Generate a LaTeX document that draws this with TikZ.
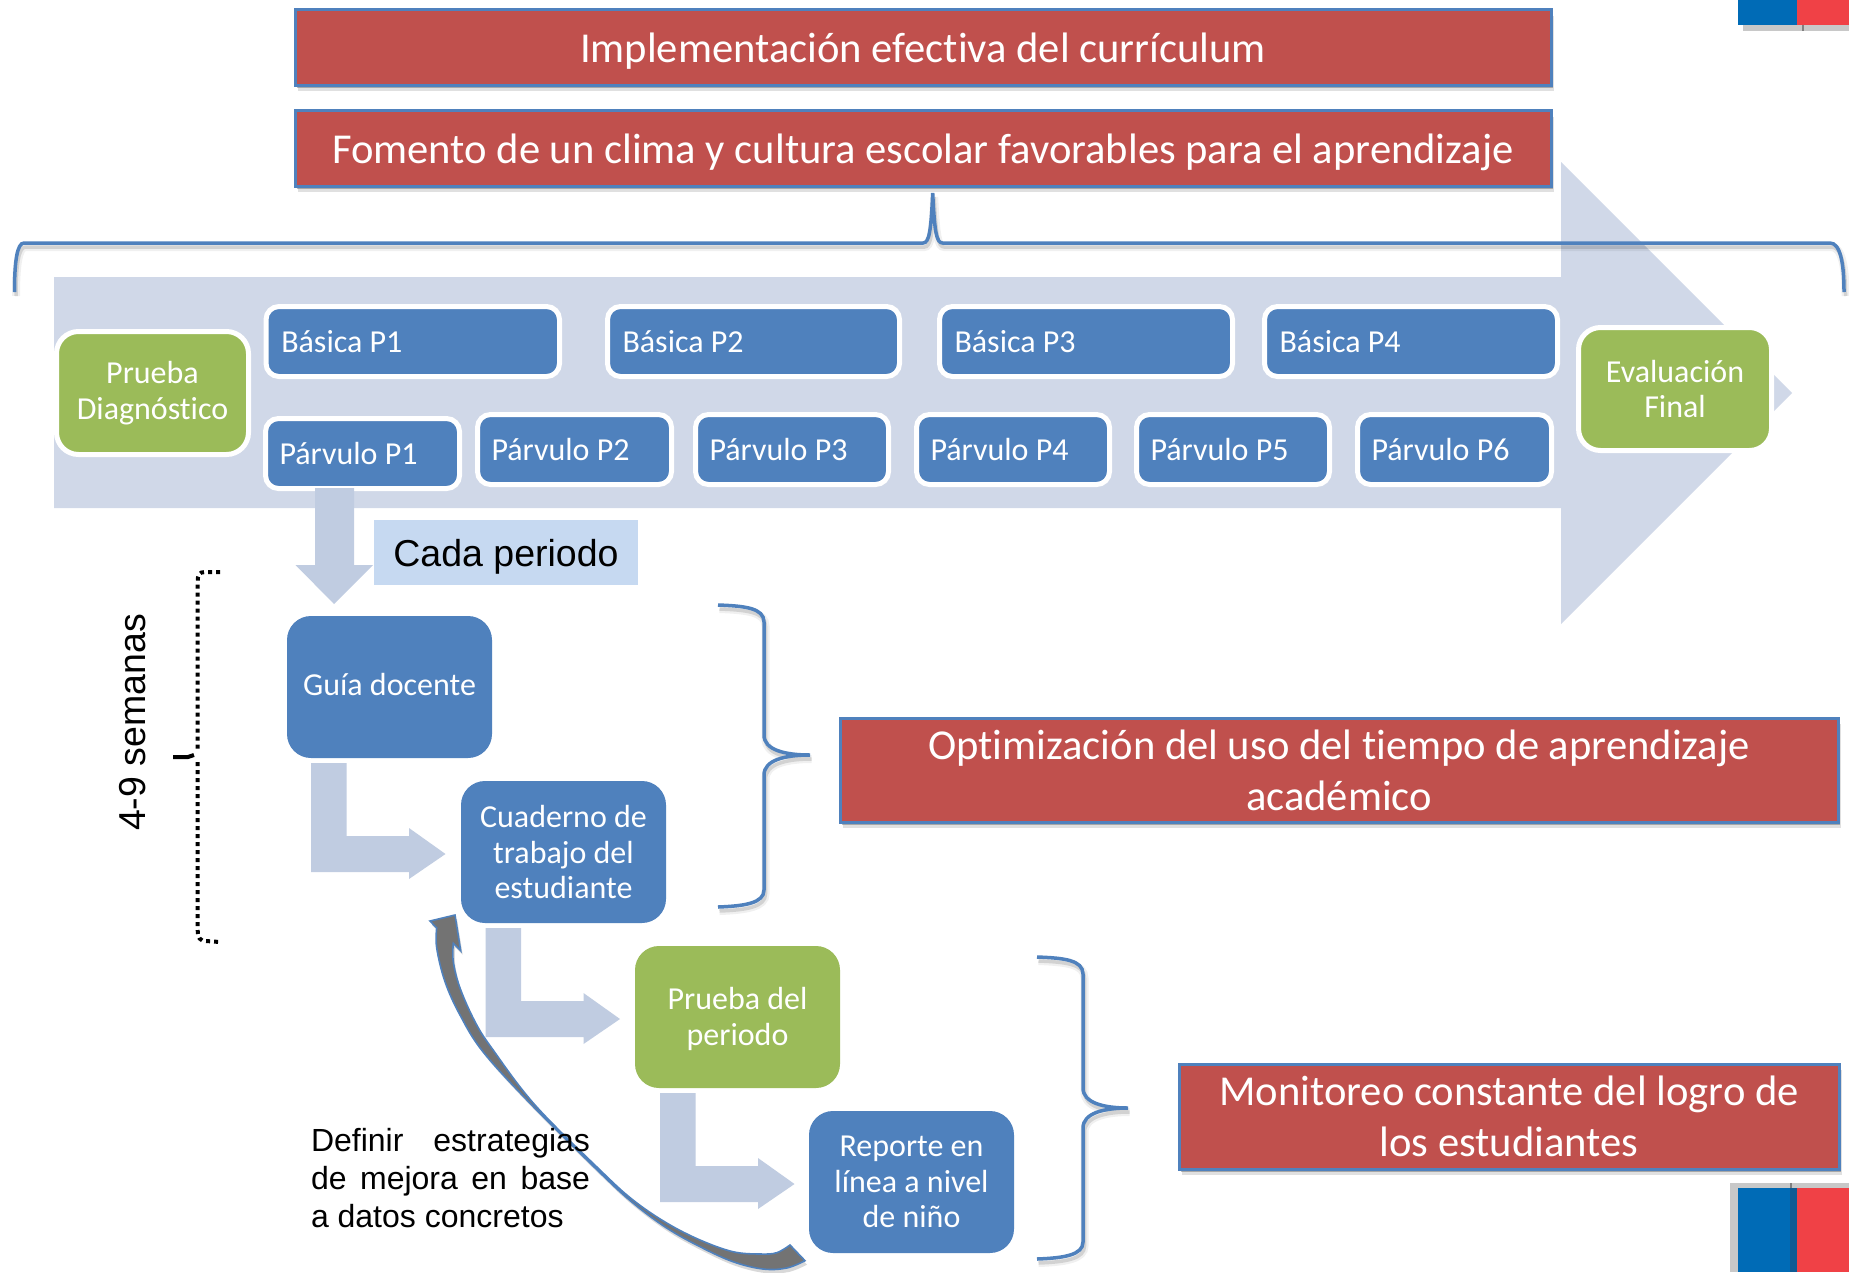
\documentclass[tikz,border=0pt]{standalone}
\usepackage{fontspec}
\setmainfont[Ligatures=NoCommon]{Carlito}
\newfontfamily\arialf{Liberation Sans}
\usetikzlibrary{shadows}
\definecolor{barc}{HTML}{D0D8E8}
\definecolor{bluec}{HTML}{4F81BD}
\definecolor{greenc}{HTML}{9BBB59}
\definecolor{redc}{HTML}{C0504D}
\definecolor{arrc}{HTML}{C0CCE1}
\definecolor{lblc}{HTML}{C6D9F1}
\definecolor{flagb}{HTML}{006BB6}
\definecolor{flagr}{HTML}{F04146}
\definecolor{flagg}{HTML}{C8C8C8}
\definecolor{flagd}{HTML}{0F5B94}
\newcommand{\boxat}[6]{%
  \pgfmathsetmacro{\bw}{#4-#2}\pgfmathsetmacro{\bh}{#5-#3}%
  \pgfmathsetmacro{\bx}{(#2+#4)/2}\pgfmathsetmacro{\by}{(#3+#5)/2}%
  \node[#6,minimum width=\bw pt,minimum height=\bh pt] (#1) at (\bx,\by)}
\newcommand{\lowered}[2]{\raisebox{#1pt}[\height][\depth]{#2}}
\newcommand{\bentarrow}[2]{%
  \fill[arrc,shift={(#1,#2)}] (0,0) -- (35.5,0) -- (35.5,73) -- (98,73) -- (98,65) -- (134.5,91) -- (98,116) -- (98,109) -- (0,109) -- cycle;}
\newcommand{\curvepath}{plot[smooth,tension=.6] coordinates {(453.3,943.3) (453.3,961.7) (460,988) (475,1021.7) (491.7,1048) (535,1105) (600,1170) (633,1200) (666.7,1223) (700,1240) (733,1251.7) (760,1254) (776.7,1252.7) (790,1245)} -- (805,1260.7) -- plot[smooth,tension=.6] coordinates {(805,1260.7) (786.7,1268) (763,1269) (733,1261.7) (700,1246.7) (666.7,1228) (633,1203) (600,1172.7) (531.7,1105) (483,1051.7) (460,1015) (445,981.7) (436.7,948) (436.7,928)} -- (430,921) -- (455,915) -- (460.7,950.7) -- cycle}
\newcommand{\topbrace}{(14.5,292) .. controls (14.5,262) and (17,243) .. (24,243) -- (923,243) .. controls (929,243) and (931,232) .. (932.7,193) .. controls (934.5,232) and (936.5,243) .. (942.5,243) -- (1830,243) .. controls (1840,243) and (1844,262) .. (1844,292)}
\newcommand{\bracea}{(718,605) .. controls (745,606) and (764,608) .. (764,622) -- (764,735) .. controls (764,750) and (785,755) .. (810,755) .. controls (785,755) and (764,760) .. (764,775) -- (764,890) .. controls (764,903) and (745,906) .. (718,907)}
\newcommand{\braceb}{(1037,957) .. controls (1064,958) and (1083,960) .. (1083,974) -- (1083,1088) .. controls (1083,1103) and (1104,1108) .. (1128,1108) .. controls (1104,1108) and (1083,1113) .. (1083,1128) -- (1083,1242) .. controls (1083,1255) and (1064,1258) .. (1037,1259)}
\tikzset{
  every node/.style={inner sep=0pt,outer sep=0pt,text=white,font=\fontsize{32}{35.5}\selectfont,align=center},
  redbox/.style={draw=bluec,line width=3pt,fill=redc,font=\fontsize{42.6}{51}\selectfont,
     drop shadow={shadow xshift=3pt,shadow yshift=-6pt,opacity=.12,fill=black},
     drop shadow={shadow xshift=2pt,shadow yshift=-3pt,opacity=.25,fill=black}},
  tabbox/.style={draw=white,line width=5pt,fill=bluec,rounded corners=13pt},
  endbox/.style={draw=white,line width=5pt,fill=greenc,rounded corners=22pt},
  stepblue/.style={fill=bluec,rounded corners=24pt},
  stepgreen/.style={fill=greenc,rounded corners=24pt},
  bracel/.style={draw=bluec,line width=3.5pt},
  braceshadow/.style={draw=black,opacity=.12,line width=3.5pt,shift={(1.5,4)},preaction={draw=black,opacity=.06,line width=8pt}},
  dotbrace/.style={draw=black,line width=4pt,dash pattern=on 4pt off 4pt},
  dark/.style={text=black}
}
\begin{document}
\begin{tikzpicture}[x=1pt,y=-1pt]
\useasboundingbox (0,0) rectangle (1849,1272);
\fill[white] (0,0) rectangle (1849,1272);
% main arrow
\fill[barc] (54,277) -- (1561,277) -- (1561,162) -- (1792,393) -- (1561,624) -- (1561,508) -- (54,508) -- cycle;
% logos
\fill[flagg] (1743,25) rectangle (1849,31);
\fill[gray] (1802,25) rectangle (1804,31);
\fill[flagb] (1738,0) rectangle (1797,25);
\fill[flagr] (1797,0) rectangle (1849,25);
\fill[flagg] (1730,1183) rectangle (1849,1272);
\fill[gray] (1790,1183) rectangle (1792,1188);
\fill[flagb] (1738,1188) rectangle (1797,1272);
\fill[flagd] (1790,1188) rectangle (1797,1272);
\fill[flagr] (1797,1188) rectangle (1849,1272);
% red boxes
\boxat{impl}{295}{9.5}{1551}{85}{redbox} {\lowered{-4}{Implementación efectiva del currículum}};
\boxat{clima}{295}{110.5}{1551}{186}{redbox} {\lowered{-4}{Fomento de un clima y cultura escolar favorables para el aprendizaje}};
\boxat{opt}{840}{718}{1838}{822}{redbox} {Optimización del uso del tiempo de aprendizaje\\académico};
\boxat{mon}{1179}{1064}{1839}{1169}{redbox} {Monitoreo constante del logro de\\los estudiantes};
% top brace
\path[braceshadow] \topbrace;
\path[bracel] \topbrace;
% period boxes
\boxat{pd}{56.5}{331.5}{248.5}{454.5}{endbox} {Prueba\\Diagnóstico};
\boxat{ef}{1578.5}{327.5}{1771.5}{450.5}{endbox} {Evaluación\\Final};
\boxat{bp1}{266}{306.5}{559.5}{376.5}{tabbox} {\makebox[263pt][l]{Básica P1}};
\boxat{bp2}{607.5}{306.5}{899.5}{376.5}{tabbox} {\makebox[262pt][l]{Básica P2}};
\boxat{bp3}{939.5}{306.5}{1232.5}{376.5}{tabbox} {\makebox[263pt][l]{Básica P3}};
\boxat{bp4}{1264.5}{306.5}{1557.5}{376.5}{tabbox} {\makebox[263pt][l]{Básica P4}};
\boxat{pp1}{265.5}{418.5}{459.5}{488.5}{tabbox} {\makebox[166pt][l]{Párvulo P1}};
\boxat{pp2}{477.5}{414.5}{671.5}{484.5}{tabbox} {\makebox[166pt][l]{Párvulo P2}};
\boxat{pp3}{695.5}{414.5}{888.5}{484.5}{tabbox} {\makebox[165pt][l]{Párvulo P3}};
\boxat{pp4}{916.5}{414.5}{1109.5}{484.5}{tabbox} {\makebox[165pt][l]{Párvulo P4}};
\boxat{pp5}{1136.5}{414.5}{1329.5}{484.5}{tabbox} {\makebox[165pt][l]{Párvulo P5}};
\boxat{pp6}{1357.5}{414.5}{1551.5}{484.5}{tabbox} {\makebox[166pt][l]{Párvulo P6}};
% down arrow and label
\fill[arrc] (315,488) -- (354,488) -- (354,565) -- (373,565) -- (334,604) -- (295.5,565) -- (315,565) -- cycle;
\boxat{cada}{374}{520}{638}{585}{fill=lblc,dark,font=\arialf\fontsize{37.5}{42}\selectfont} {\lowered{-4.5}{Cada periodo}};
% steps
\boxat{guia}{287}{616}{492}{758}{stepblue} {\lowered{2.4}{Guía docente}};
\boxat{cuad}{461}{781}{666}{923}{stepblue} {Cuaderno de\\trabajo del\\estudiante};
\boxat{prue}{635}{946}{840}{1088}{stepgreen} {\lowered{-2}{\parbox{205pt}{\centering Prueba del\\periodo}}};
\boxat{repo}{809}{1111}{1014}{1253}{stepblue} {Reporte en\\línea a nivel\\de niño};
\bentarrow{311}{763}
\bentarrow{485.5}{928}
\bentarrow{660}{1093}
% side braces
\path[braceshadow] \bracea;
\path[bracel] \bracea;
\path[braceshadow] \braceb;
\path[bracel] \braceb;
% dotted brace
\path[dotbrace] (220,572) -- (205,572) .. controls (199,572) and (197.7,575) .. (197.7,582) -- (197.7,750);
\path[dotbrace] (197.7,762) -- (197.7,930) .. controls (197.7,938) and (200,941) .. (206,941) -- (220,942);
\path[draw=black,line width=4pt] (173,757) -- (188,757) -- (194,755);
% curved arrow
\fill[black,opacity=.15,shift={(2,4)}] \curvepath;
\draw[bluec,line width=1.6pt,fill=black!55] \curvepath;
% text
\node[dark,font=\arialf\fontsize{37.5}{42}\selectfont,rotate=90] (sem) at (133,722.5) {4-9 semanas};
\node[dark,font=\arialf\fontsize{32}{38}\selectfont,text width=279pt,align=justify,anchor=north west] (def) at (311,1128) {Definir estrategias\linebreak de mejora en base\linebreak a datos concretos};
\end{tikzpicture}
\end{document}
